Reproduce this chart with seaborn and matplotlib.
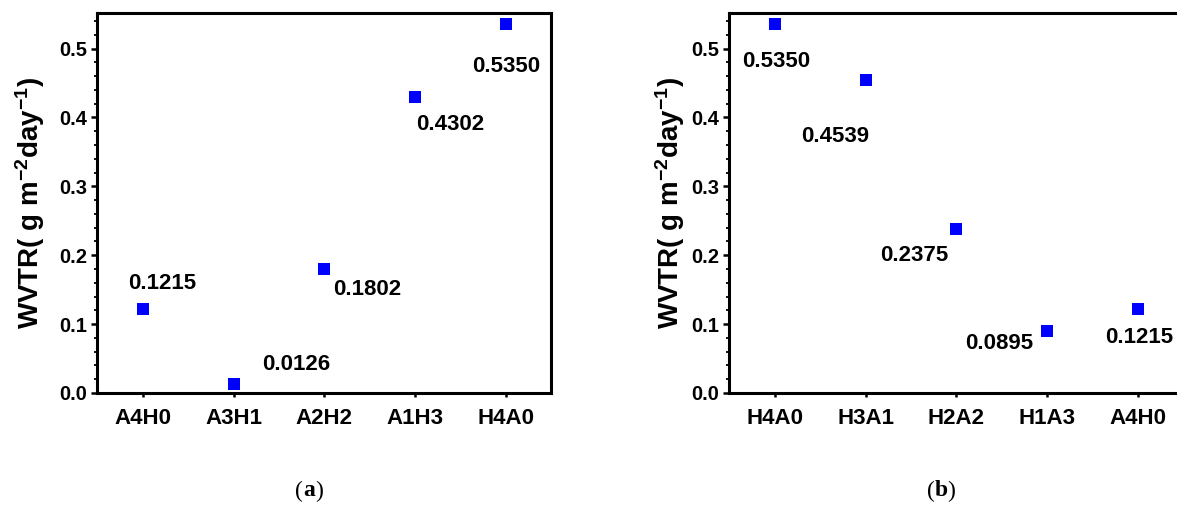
import matplotlib
matplotlib.use("Agg")
import matplotlib.pyplot as plt
from matplotlib.ticker import MultipleLocator, FormatStrFormatter
import seaborn as sns
import pandas as pd

# ---- data ----
cats_a = ["A4H0", "A3H1", "A2H2", "A1H3", "H4A0"]
wvtr_a = [0.1215, 0.0126, 0.1802, 0.4302, 0.5350]
cats_b = ["H4A0", "H3A1", "H2A2", "H1A3", "A4H0"]
wvtr_b = [0.5350, 0.4539, 0.2375, 0.0895, 0.1215]
captions = ["a", "b"]
ylabel = r"WVTR( g m$^{-2}$day$^{-1}$)"

# label offsets in pixels (dx right, dy down) - styling only
offs_a = [(19, -26), (63, -20), (43, 21), (35, 28), (1, 42)]
offs_b = [(1, 37), (-31, 56), (-42, 26), (-48, 12), (1, 28)]

sns.set_theme(style="ticks")
plt.rcParams["font.family"] = ["Liberation Sans", "DejaVu Sans"]
plt.rcParams["font.weight"] = "bold"
plt.rcParams["mathtext.fontset"] = "custom"
plt.rcParams["mathtext.rm"] = "Liberation Sans:bold"
plt.rcParams["mathtext.bf"] = "Liberation Sans:bold"
plt.rcParams["mathtext.default"] = "rm"

W, H = 1177, 505
fig = plt.figure(figsize=(W / 100, H / 100), dpi=100)

def px_axes(l, t, r, b):
    return fig.add_axes([l / W, 1 - b / H, (r - l) / W, (b - t) / H])

ax_a = px_axes(96.7, 12.7, 551, 393)
ax_b = px_axes(729, 12.7, 1183, 393)

panels = [
    (ax_a, cats_a, wvtr_a, offs_a, -0.109, 309),
    (ax_b, cats_b, wvtr_b, offs_b, -0.092, 941),
]

for ax, cats, vals, offs, ylab_x, cap_x in panels:
    df = pd.DataFrame({"cat": cats, "wvtr": vals})
    sns.scatterplot(data=df, x="cat", y="wvtr", ax=ax, marker="s",
                    color="#0000FF", s=80, linewidth=0, zorder=3)
    ax.set_xlim(-0.51, 4.5)
    ax.set_ylim(0, 0.552)
    ax.yaxis.set_major_locator(MultipleLocator(0.1))
    ax.yaxis.set_minor_locator(MultipleLocator(0.02))
    ax.yaxis.set_major_formatter(FormatStrFormatter("%.1f"))
    for sp in ax.spines.values():
        sp.set_linewidth(2.2)
        sp.set_color("black")
    ax.tick_params(axis="x", which="major", length=3, width=1.8,
                   labelsize=16, pad=8, colors="black")
    ax.tick_params(axis="y", which="major", length=4, width=1.8,
                   labelsize=14.5, pad=3, colors="black")
    ax.tick_params(axis="y", which="minor", length=2, width=1.3,
                   colors="black")
    for lab in ax.get_xticklabels() + ax.get_yticklabels():
        lab.set_fontweight("bold")
    ax.set_xlabel("")
    ax.set_ylabel(ylabel, fontsize=20, fontweight="bold", color="black")
    ax.yaxis.set_label_coords(ylab_x, 0.5)
    for i, (c, v) in enumerate(zip(cats, vals)):
        dx, dy = offs[i]
        ax.annotate(f"{v:.4f}", xy=(i, v), xytext=(dx, -dy),
                    textcoords="offset pixels", ha="center", va="center",
                    fontsize=16, fontweight="bold", color="black",
                    annotation_clip=False)

# captions "(a)" / "(b)" with bold letter, serif
serif = ["Liberation Serif", "DejaVu Serif"]
renderer = fig.canvas.get_renderer()
for cap, p in zip(captions, panels):
    cap_x = p[5]
    t_letter = fig.text(cap_x / W, 1 - 491 / H, cap, ha="center", va="center",
                        fontsize=17, fontweight="bold", family=serif,
                        color="black")
    bb = t_letter.get_window_extent(renderer=renderer)
    fig.text(bb.x0 / W, 1 - 491 / H, "(", ha="right", va="center",
             fontsize=17, fontweight="normal", family=serif, color="black")
    fig.text(bb.x1 / W, 1 - 491 / H, ")", ha="left", va="center",
             fontsize=17, fontweight="normal", family=serif, color="black")

fig.savefig("out.png", dpi=100)
